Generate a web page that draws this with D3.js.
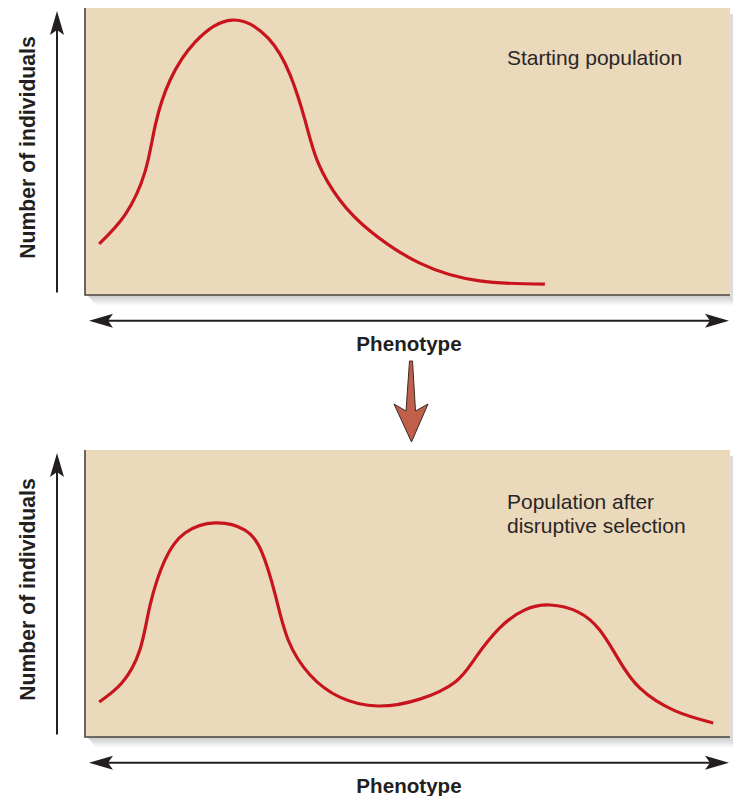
<!DOCTYPE html>
<html>
<head>
<meta charset="utf-8">
<script src="https://cdn.jsdelivr.net/npm/d3@7"></script>
<style>
  html, body { margin: 0; padding: 0; background: #ffffff; }
  svg { display: block; }
  text { font-family: "Liberation Sans", Arial, Helvetica, sans-serif; fill: #231f20; }
</style>
</head>
<body>
<svg id="chart" width="733" height="796"></svg>
<script>
// ---- Data (phenotype 0-100, relative number of individuals 0-100) ----
const startPhenotype = [2.2, 6.2, 9.3, 10.9, 13.2, 17.1, 22.8, 28.4, 31.8, 34.1, 36.1, 39.5, 44.2, 51.9, 61.2, 71.3];
const startCount     = [17.8, 27.9, 42.9, 59.2, 74.9, 88.2, 95.8, 89.5, 76.7, 61.0, 46.3, 33.1, 22.3, 11.1, 4.9, 3.8];

const afterPhenotype = [2.2, 5.7, 8.5, 10.1, 12.4, 15.5, 20.2, 24.8, 27.4, 29.5, 31.5, 34.9, 39.5, 45.4, 51.9, 57.4, 60.5, 64.3, 68.2, 72.1, 76.4, 79.8, 82.6, 86.0, 91.5, 97.4];
const afterCount     = [12.2, 18.8, 30.3, 46.0, 61.7, 71.1, 74.6, 72.1, 64.5, 49.5, 33.8, 21.6, 13.9, 10.8, 13.2, 19.2, 27.5, 38.0, 44.3, 46.0, 43.6, 37.3, 27.5, 17.1, 9.1, 4.9];

const panelTitles = [["Starting population"], ["Population after", "disruptive selection"]];
const yAxisLabel = "Number of individuals";
const xAxisLabel = "Phenotype";

// ---- Layout ----
const svg = d3.select("#chart");
const panelLeft = 85, panelRight = 730, panelH = 287;
const panelTops = [8, 450];
const titleBaselines = [57, 59];

const defs = svg.append("defs");
const sh = defs.append("linearGradient").attr("id", "shadow").attr("x1", 0).attr("y1", 0).attr("x2", 0).attr("y2", 1);
sh.append("stop").attr("offset", "0%").attr("stop-color", "#c9c9c9");
sh.append("stop").attr("offset", "100%").attr("stop-color", "#ffffff");

const x = d3.scaleLinear().domain([0, 100]).range([panelLeft, panelRight]);

function arrowHead(g, tipX, tipY, dir) {
  const L = 24, H = 7, N = 5;
  let pts;
  if (dir === "up") pts = [[tipX, tipY], [tipX + H, tipY + L], [tipX, tipY + L - N], [tipX - H, tipY + L]];
  else if (dir === "left") pts = [[tipX, tipY], [tipX + L, tipY - H], [tipX + L - N, tipY], [tipX + L, tipY + H]];
  else pts = [[tipX, tipY], [tipX - L, tipY - H], [tipX - L + N, tipY], [tipX - L, tipY + H]];
  g.append("path").attr("d", "M" + pts.map(p => p.join(",")).join("L") + "Z").attr("fill", "#231f20");
}

function drawPanel(i, px, py) {
  const top = panelTops[i];
  const bottom = top + panelH;
  const y = d3.scaleLinear().domain([0, 100]).range([bottom, top]);
  const g = svg.append("g");

  // shadow under the panel
  g.append("path")
    .attr("d", `M${panelLeft + 2},${bottom} L${panelRight + 3},${bottom} L${panelRight + 3},${bottom + 11} L${panelLeft + 12},${bottom + 11} Z`)
    .attr("fill", "url(#shadow)");
  g.append("rect").attr("x", panelRight).attr("y", top + 6).attr("width", 3).attr("height", panelH)
    .attr("fill", "#dcdcdc");

  // panel background
  g.append("rect").attr("x", panelLeft).attr("y", top).attr("width", panelRight - panelLeft).attr("height", panelH)
    .attr("fill", "#EAD9BB");
  g.append("path").attr("d", `M${panelLeft},${top} L${panelLeft},${bottom} L${panelRight},${bottom}`)
    .attr("fill", "none").attr("stroke", "#4a4440").attr("stroke-width", 1.6);

  // curve
  const pts = px.map((d, k) => [d, py[k]]);
  const line = d3.line().x(d => x(d[0])).y(d => y(d[1])).curve(d3.curveNatural);
  g.append("path").attr("d", line(pts)).attr("fill", "none")
    .attr("stroke", "#C8151D").attr("stroke-width", 3.2).attr("stroke-linecap", "butt");

  // title text
  const t = g.append("text").attr("x", 507).attr("y", top + titleBaselines[i])
    .attr("font-size", 21).style("fill", "#2a2626");
  panelTitles[i].forEach((s, k) => t.append("tspan").attr("x", 507).attr("dy", k === 0 ? 0 : 24).text(s));

  // y axis arrow
  const yAxisX = 57;
  g.append("line").attr("x1", yAxisX).attr("x2", yAxisX).attr("y1", bottom - 2.5).attr("y2", top + 12)
    .attr("stroke", "#231f20").attr("stroke-width", 2);
  arrowHead(g, yAxisX, top + 3, "up");

  // y label
  g.append("text").attr("transform", `translate(34.5,${top + 139.5}) rotate(-90)`)
    .attr("text-anchor", "middle").attr("font-size", 21.2).attr("font-weight", "bold").text(yAxisLabel);

  // x double arrow
  const ay = bottom + 25.7;
  g.append("line").attr("x1", 100).attr("x2", 718).attr("y1", ay).attr("y2", ay)
    .attr("stroke", "#231f20").attr("stroke-width", 2);
  arrowHead(g, 89, ay, "left");
  arrowHead(g, 729, ay, "right");

  // x label
  g.append("text").attr("x", 409).attr("y", bottom + 56).attr("text-anchor", "middle")
    .attr("font-size", 20.6).attr("font-weight", "bold").text(xAxisLabel);
}

drawPanel(0, startPhenotype, startCount);
drawPanel(1, afterPhenotype, afterCount);

// down arrow between the panels
const arrowPts = [[409.5, 361], [412.5, 361], [415.5, 411], [428, 404], [411.5, 442], [394, 404], [406, 411]];
svg.append("path").attr("d", "M" + arrowPts.map(p => p.join(",")).join("L") + "Z")
  .attr("fill", "#C0604A").attr("stroke", "#3a2a26").attr("stroke-width", 1).attr("stroke-linejoin", "miter");
</script>
</body>
</html>
